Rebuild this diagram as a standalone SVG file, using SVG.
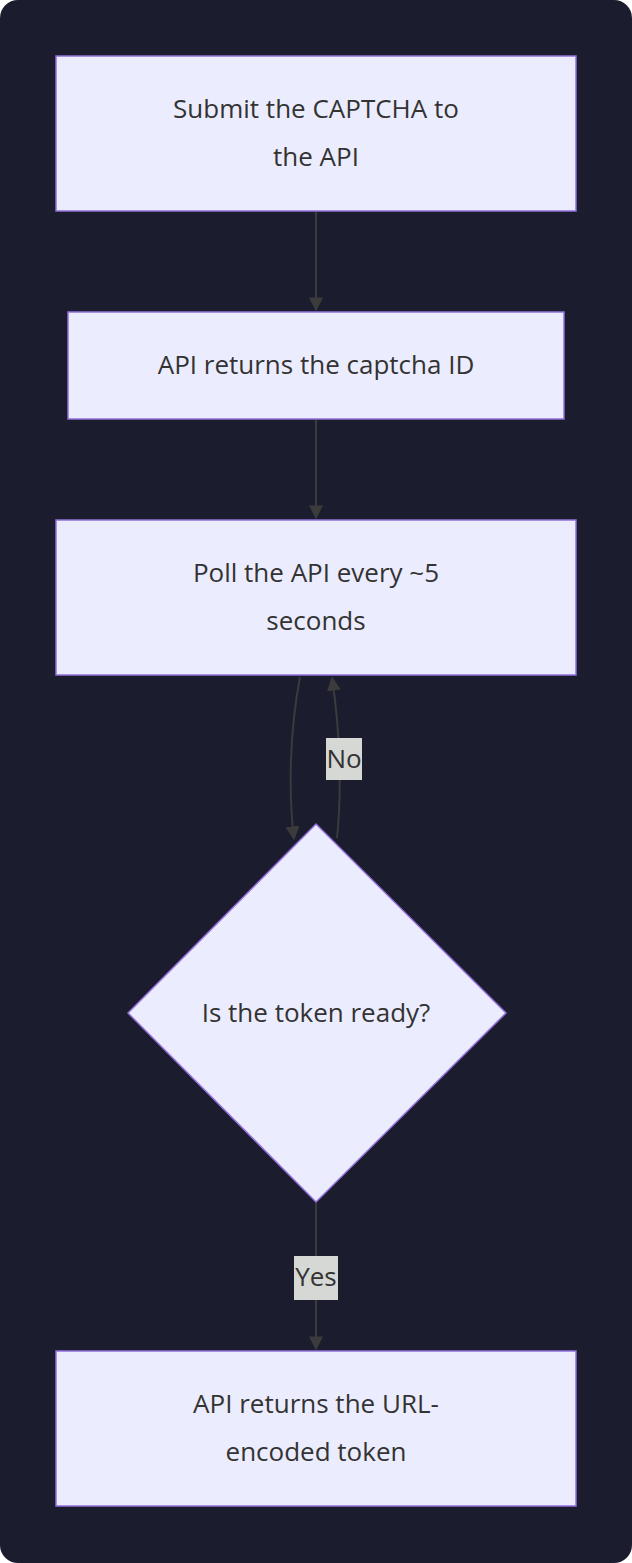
<svg xmlns="http://www.w3.org/2000/svg" width="632" height="1563" viewBox="0 0 632 1563">
<style>
.n{fill:#ECECFF;stroke:#9370DB;stroke-width:1.5}
.t{font-family:"Open Sans","Noto Sans",sans-serif;font-size:26px;fill:#333;text-anchor:middle}
.e{fill:none;stroke:#3b3b3b;stroke-width:2}
.lb{fill:#d6d8d5}
</style>
<defs><marker id="a" viewBox="0 0 10 10" refX="9" refY="5" markerWidth="7" markerHeight="7" orient="auto"><path d="M0,0L10,5L0,10z" fill="#3b3b3b"/></marker></defs>
<rect width="632" height="1563" rx="18" fill="#1b1c2e"/>
<g id="edges">
<path class="e" d="M316,212V310" marker-end="url(#a)"/>
<path class="e" d="M316,420V518" marker-end="url(#a)"/>
<path class="e" d="M300,677C290,730 288,790 294,839" marker-end="url(#a)"/>
<path class="e" d="M337,838C342,790 340,730 332,678" marker-end="url(#a)"/>
<path class="e" d="M316,1203V1349" marker-end="url(#a)"/>
<rect class="lb" x="326" y="738" width="36" height="42"/>
<text class="t" x="344" y="768">No</text>
<rect class="lb" x="294" y="1256" width="44" height="44"/>
<text class="t" x="316" y="1286">Yes</text>
</g>
<g id="n1"><rect class="n" x="56" y="56" width="520" height="155"/><text class="t" x="316" y="118">Submit the CAPTCHA to</text><text class="t" x="316" y="166">the API</text></g>
<g id="n2"><rect class="n" x="68" y="312" width="496" height="107"/><text class="t" x="316" y="374">API returns the captcha ID</text></g>
<g id="n3"><rect class="n" x="56" y="520" width="520" height="155"/><text class="t" x="316" y="582">Poll the API every ~5</text><text class="t" x="316" y="630">seconds</text></g>
<g id="n4"><polygon class="n" points="316,824 506,1013 316,1202 128,1013"/><text class="t" x="316" y="1022">Is the token ready?</text></g>
<g id="n5"><rect class="n" x="56" y="1351" width="520" height="155"/><text class="t" x="316" y="1413">API returns the URL-</text><text class="t" x="316" y="1461">encoded token</text></g>
</svg>
